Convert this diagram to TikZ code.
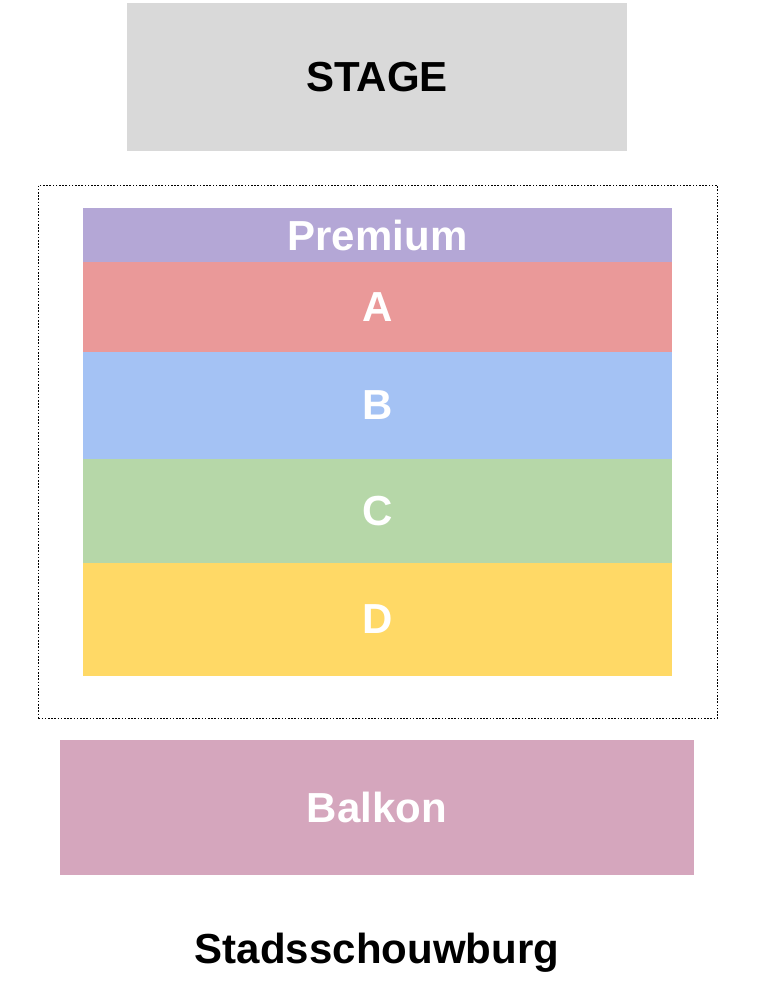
\documentclass[tikz,border=0pt]{standalone}
\usepackage{fontspec}
\setmainfont{Liberation Sans}
\usetikzlibrary{positioning}

\definecolor{stagegray}{HTML}{D9D9D9}
\definecolor{premcol}{HTML}{B4A7D6}
\definecolor{acol}{HTML}{EA9999}
\definecolor{bcol}{HTML}{A4C2F4}
\definecolor{ccol}{HTML}{B6D7A8}
\definecolor{dcol}{HTML}{FFD966}
\definecolor{balkcol}{HTML}{D5A6BD}

\begin{document}
\begin{tikzpicture}[x=1pt,y=-1pt,
  big/.style={font=\fontsize{42}{48}\selectfont\bfseries},
  zone/.style={big,fill=#1,text=white,inner sep=0pt,outer sep=0pt,minimum width=589pt}]
\useasboundingbox (0,0) rectangle (762,986);
\node[big,fill=stagegray,inner sep=0pt,minimum width=500pt,minimum height=148pt,anchor=north west] (stage) at (127,3) {STAGE};
\node[draw,line width=0.8pt,dash pattern=on 1.6pt off 1.6pt,minimum width=679pt,minimum height=533pt,anchor=north west] (hall) at (38,185) {};
\node[zone=premcol,minimum height=54pt,anchor=north west] (prem) at (83,208) {Premium};
\node[zone=acol,minimum height=90pt,below=0pt of prem] (a) {A};
\node[zone=bcol,minimum height=107pt,below=0pt of a] (b) {B};
\node[zone=ccol,minimum height=104pt,below=0pt of b] (c) {C};
\node[zone=dcol,minimum height=113pt,below=0pt of c] (d) {D};
\node[zone=balkcol,minimum width=634pt,minimum height=135pt,anchor=north west] (balkon) at (60,740) {Balkon};
\node[big,anchor=base] (title) at (377,963) {Stadsschouwburg};
\end{tikzpicture}
\end{document}
